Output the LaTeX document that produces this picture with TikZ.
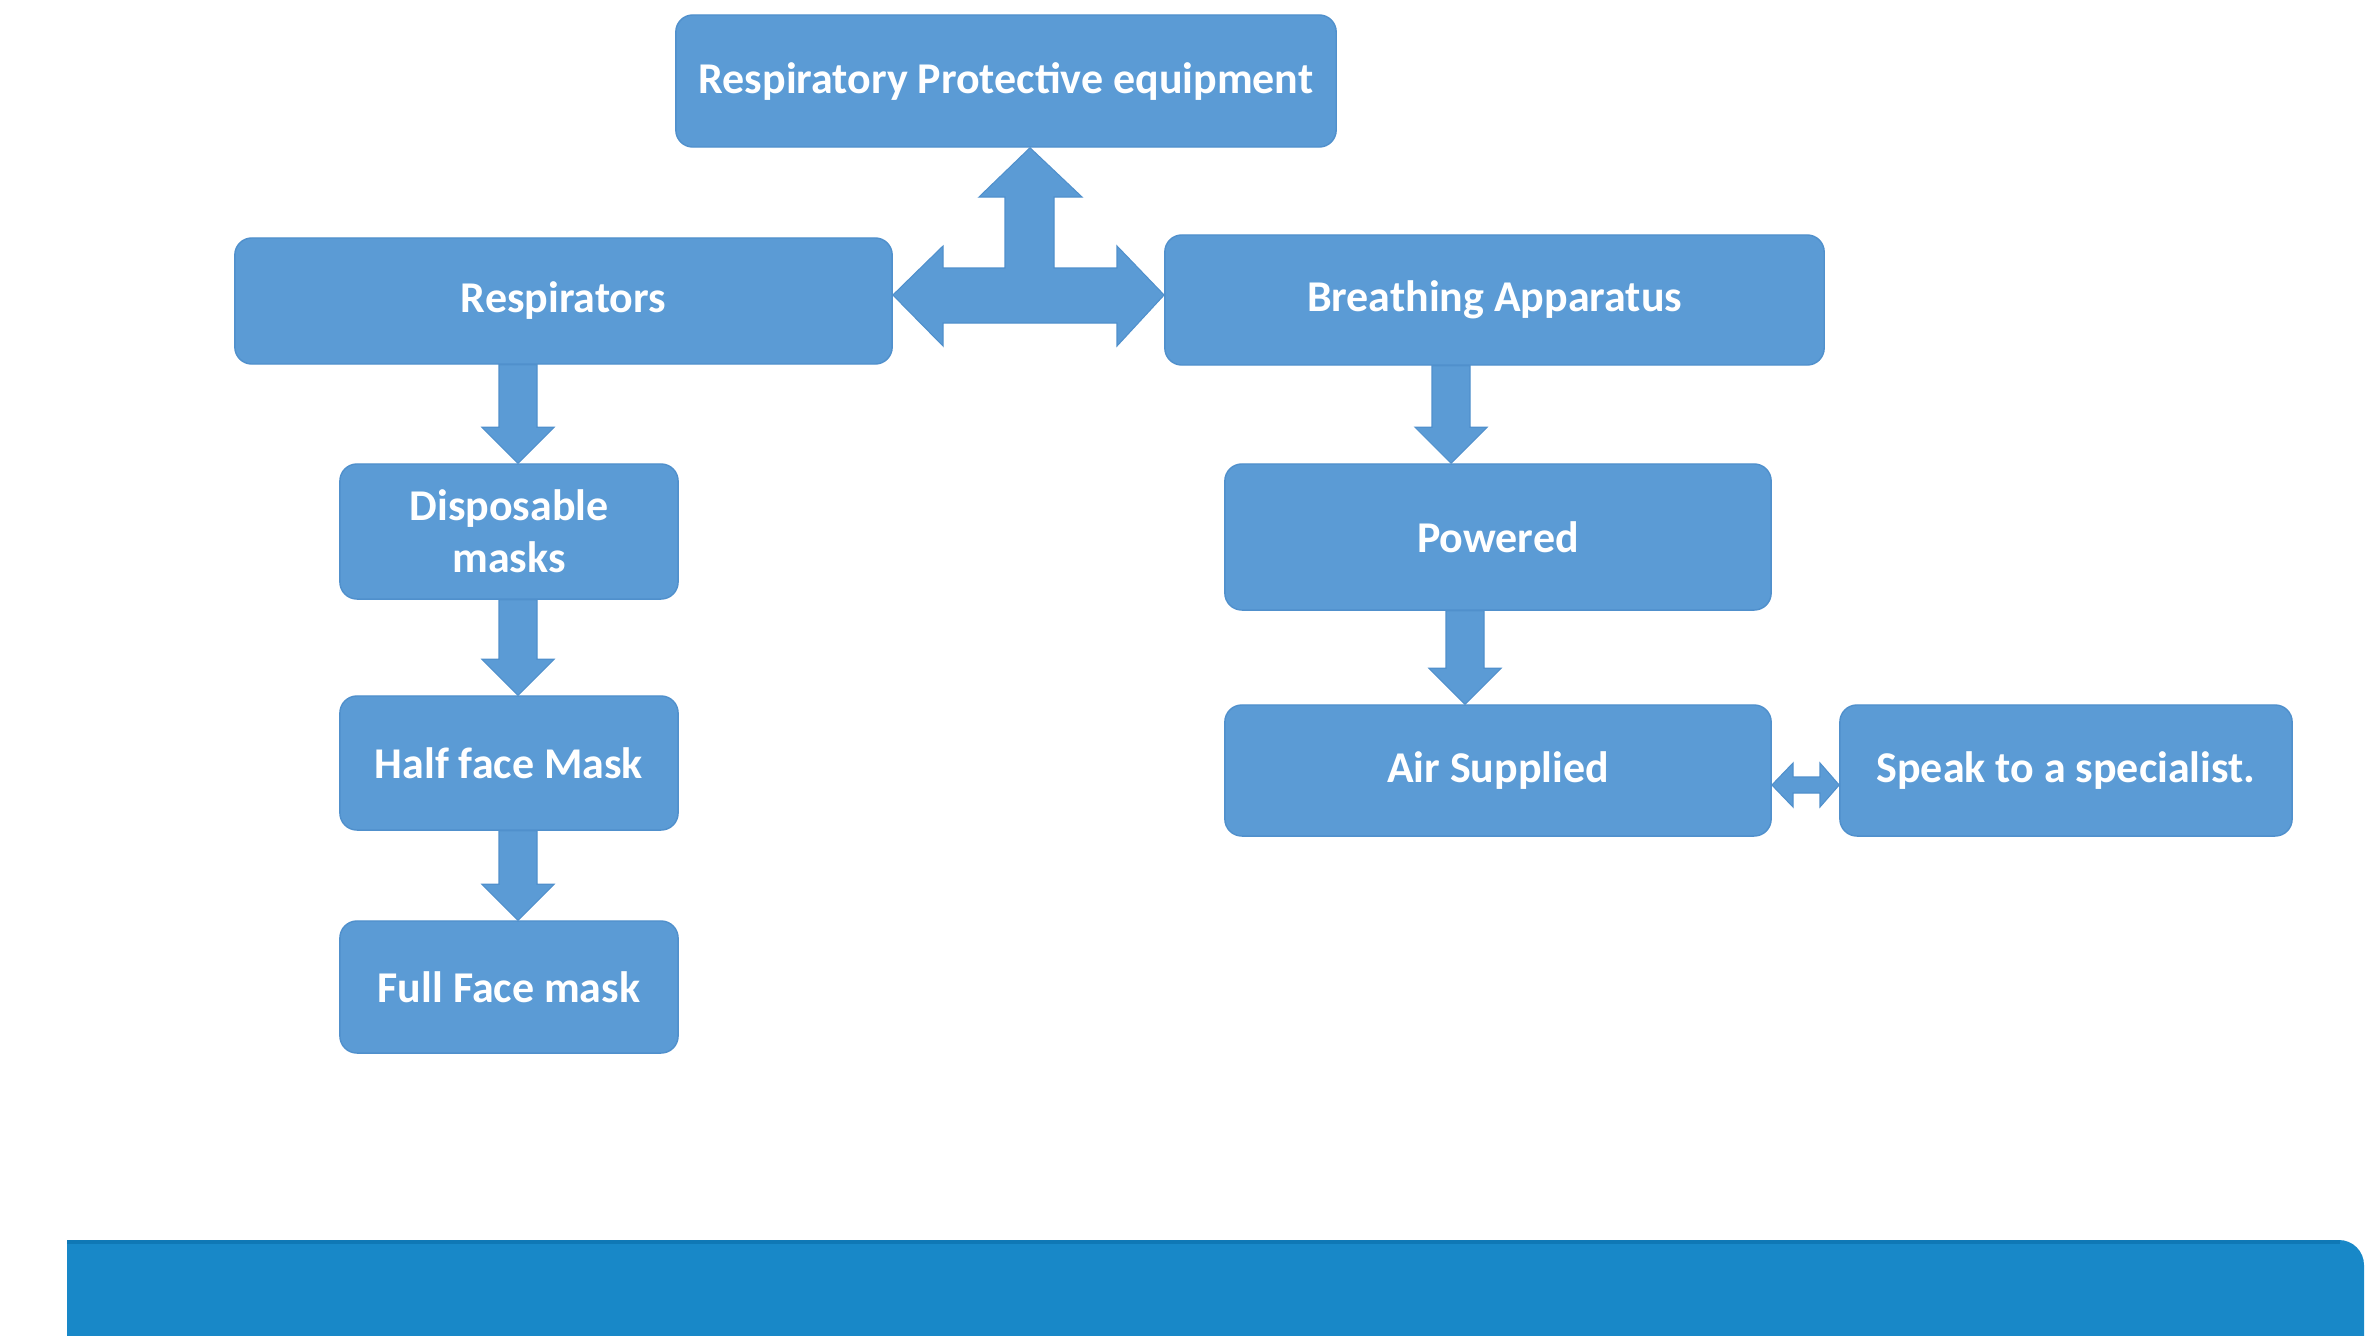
\documentclass[tikz,border=0pt]{standalone}
\usepackage{fontspec}
\setmainfont{Carlito}
\usetikzlibrary{calc}
\definecolor{boxblue}{HTML}{5B9BD5}
\definecolor{boxedge}{HTML}{5090CC}
\definecolor{barblue}{HTML}{1888C8}
\definecolor{baredge}{HTML}{0F78B5}
\tikzset{
  box/.style={rectangle, rounded corners=0.17cm, fill=boxblue, draw=boxedge, line width=0.4pt,
    text=white, align=center, inner sep=0pt,
    font=\fontsize{12.5}{14.7}\selectfont\bfseries},
  blockarrow/.style={fill=boxblue, draw=boxedge, line width=0.3pt, line join=miter}
}
\newcommand\blockdown[3]{%
  \path (#1.south -| #3,0) coordinate (bt) (#2.north -| #3,0) coordinate (bb);
  \draw[blockarrow] ($(bt)+(-19,0)$) -- ($(bb)+(-19,-36)$) -- ($(bb)+(-36,-36)$) -- (bb)
    -- ($(bb)+(36,-36)$) -- ($(bb)+(19,-36)$) -- ($(bt)+(19,0)$) -- cycle;
}
\begin{document}
\begin{tikzpicture}[x=0.01cm,y=-0.01cm]
\useasboundingbox (0,0) rectangle (2378,1336);
\fill[white] (0,0) rectangle (2378,1336);

% bottom bar
\fill[barblue] (67,1340) -- (67,1240) [rounded corners=0.25cm] -- (2364,1240) [sharp corners] -- (2364,1340) -- cycle;
\draw[baredge, line width=1.2pt] (67,1242) -- (2340,1242);

\node[box, minimum width=6.6cm, minimum height=1.32cm] (top) at (1006,81) {Respiratory Protective equipment};
\node[box, minimum width=6.57cm, minimum height=1.26cm] (resp) at (563.5,301) {Respirators};
\node[box, minimum width=6.59cm, minimum height=1.30cm] (breath) at (1494.5,300) {Breathing Apparatus};
\node[box, minimum width=3.38cm, minimum height=1.35cm] (disp) at (509,531.5) {Disposable\\masks};
\node[box, minimum width=3.38cm, minimum height=1.34cm] (half) at (509,763) {Half face Mask};
\node[box, minimum width=3.38cm, minimum height=1.32cm] (full) at (509,987) {Full Face mask};
\node[box, minimum width=5.46cm, minimum height=1.46cm] (pow) at (1498,537) {Powered};
\node[box, minimum width=5.46cm, minimum height=1.31cm] (air) at (1498,770.5) {Air Supplied};
\node[box, minimum width=4.52cm, minimum height=1.31cm] (spk) at (2066,770.5) {Speak to a specialist.};

% T-shaped arrow
\draw[blockarrow] (top.south -| 1030,0) -- (1082,197) -- (1054,197) -- (1054,268) -- (1117,268)
  -- (1117,246) -- (breath.west |- 0,295) -- (1117,346) -- (1117,323) -- (943,323) -- (943,346)
  -- (resp.east |- 0,295) -- (943,246) -- (943,268) -- (1005,268) -- (1005,197) -- (979,197) -- cycle;

% down arrows
\blockdown{resp}{disp}{518}
\blockdown{disp}{half}{518}
\blockdown{half}{full}{518}
\blockdown{breath}{pow}{1451}
\blockdown{pow}{air}{1465}

% double arrow
\draw[blockarrow] (air.east |- 0,785) -- (1793,763) -- (1793,777) -- (1820,777) -- (1820,763)
  -- (spk.west |- 0,785) -- (1820,807) -- (1820,793) -- (1793,793) -- (1793,807) -- cycle;
\end{tikzpicture}
\end{document}
